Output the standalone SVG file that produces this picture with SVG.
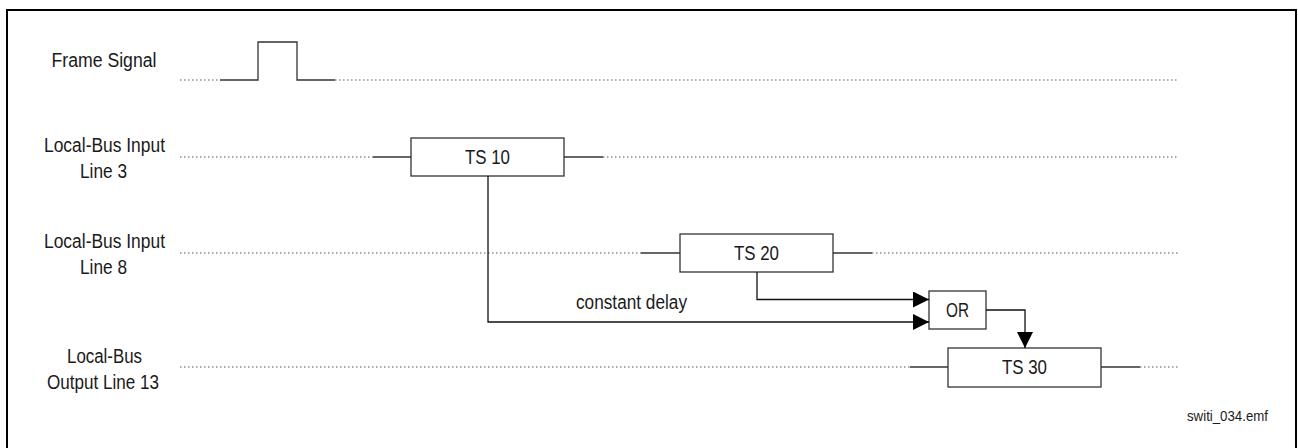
<svg xmlns="http://www.w3.org/2000/svg" width="1298" height="448" viewBox="0 0 1298 448">
<style>
text{font-family:"Liberation Sans Narrow","Arial Narrow","Liberation Sans",Arial,sans-serif;font-size:20px;fill:#1a1a1a;text-anchor:middle}
.dot{stroke:#555;stroke-width:1;stroke-dasharray:1.5 2.5;fill:none}
.sol{stroke:#333;stroke-width:1.3;fill:none}
.box{stroke:#333;stroke-width:1.3;fill:#fff}
.con{stroke:#111;stroke-width:1.3;fill:none}
.small{font-size:15px}
</style>
<defs>
<marker id="ah" markerUnits="userSpaceOnUse" markerWidth="16" markerHeight="16" refX="16" refY="8" orient="auto">
<path d="M0,0 L16,8 L0,16 Z" fill="#000"/>
</marker>
</defs>
<rect x="7" y="10" width="1289" height="450" fill="none" stroke="#000" stroke-width="2"/>

<g id="frame-signal">
<text x="104" y="67" textLength="105" lengthAdjust="spacingAndGlyphs">Frame Signal</text>
<line class="dot" x1="180" y1="80" x2="220" y2="80"/>
<polyline class="sol" points="220,80 258,80 258,42 297,42 297,80 335,80"/>
<line class="dot" x1="335" y1="80" x2="1178" y2="80"/>
</g>

<g id="line3">
<text x="104.5" y="152" textLength="121" lengthAdjust="spacingAndGlyphs">Local-Bus Input</text>
<text x="103.5" y="178" textLength="47" lengthAdjust="spacingAndGlyphs">Line 3</text>
<line class="dot" x1="180" y1="157" x2="373" y2="157"/>
<line class="sol" x1="373" y1="157" x2="411" y2="157"/>
<line class="sol" x1="564" y1="157" x2="603" y2="157"/>
<line class="dot" x1="603" y1="157" x2="1178" y2="157"/>
</g>
<g id="ts10">
<rect class="box" x="411" y="138" width="153" height="38"/>
<text x="487.5" y="164" textLength="45" lengthAdjust="spacingAndGlyphs">TS 10</text>
</g>

<g id="line8">
<text x="104.5" y="248" textLength="121" lengthAdjust="spacingAndGlyphs">Local-Bus Input</text>
<text x="103.5" y="274" textLength="47" lengthAdjust="spacingAndGlyphs">Line 8</text>
<line class="dot" x1="180" y1="253" x2="641" y2="253"/>
<line class="sol" x1="641" y1="253" x2="680" y2="253"/>
<line class="sol" x1="833" y1="253" x2="872" y2="253"/>
<line class="dot" x1="872" y1="253" x2="1178" y2="253"/>
</g>
<g id="ts20">
<rect class="box" x="680" y="234" width="153" height="38"/>
<text x="756.5" y="260" textLength="45" lengthAdjust="spacingAndGlyphs">TS 20</text>
</g>

<g id="line13">
<text x="104.5" y="363" textLength="75" lengthAdjust="spacingAndGlyphs">Local-Bus</text>
<text x="103" y="389" textLength="112" lengthAdjust="spacingAndGlyphs">Output Line 13</text>
<line class="dot" x1="180" y1="367" x2="910" y2="367"/>
<line class="sol" x1="910" y1="367" x2="948" y2="367"/>
<line class="sol" x1="1101" y1="367" x2="1140" y2="367"/>
<line class="dot" x1="1140" y1="367" x2="1178" y2="367"/>
</g>
<g id="ts30">
<rect class="box" x="948" y="348" width="153" height="39"/>
<text x="1024.5" y="374" textLength="45" lengthAdjust="spacingAndGlyphs">TS 30</text>
</g>

<g id="or">
<rect class="box" x="929" y="291" width="57" height="38"/>
<text x="957.5" y="317" textLength="23" lengthAdjust="spacingAndGlyphs">OR</text>
</g>

<g id="connectors">
<polyline class="con" points="488,176 488,322 929,322" marker-end="url(#ah)"/>
<polyline class="con" points="757,272 757,299.5 929,299.5" marker-end="url(#ah)"/>
<polyline class="con" points="986,310 1025,310 1025,348" marker-end="url(#ah)"/>
<text x="631.5" y="309" textLength="111" lengthAdjust="spacingAndGlyphs">constant delay</text>
</g>

<text class="small" x="1227.5" y="421" textLength="81" lengthAdjust="spacingAndGlyphs">switi_034.emf</text>
</svg>
